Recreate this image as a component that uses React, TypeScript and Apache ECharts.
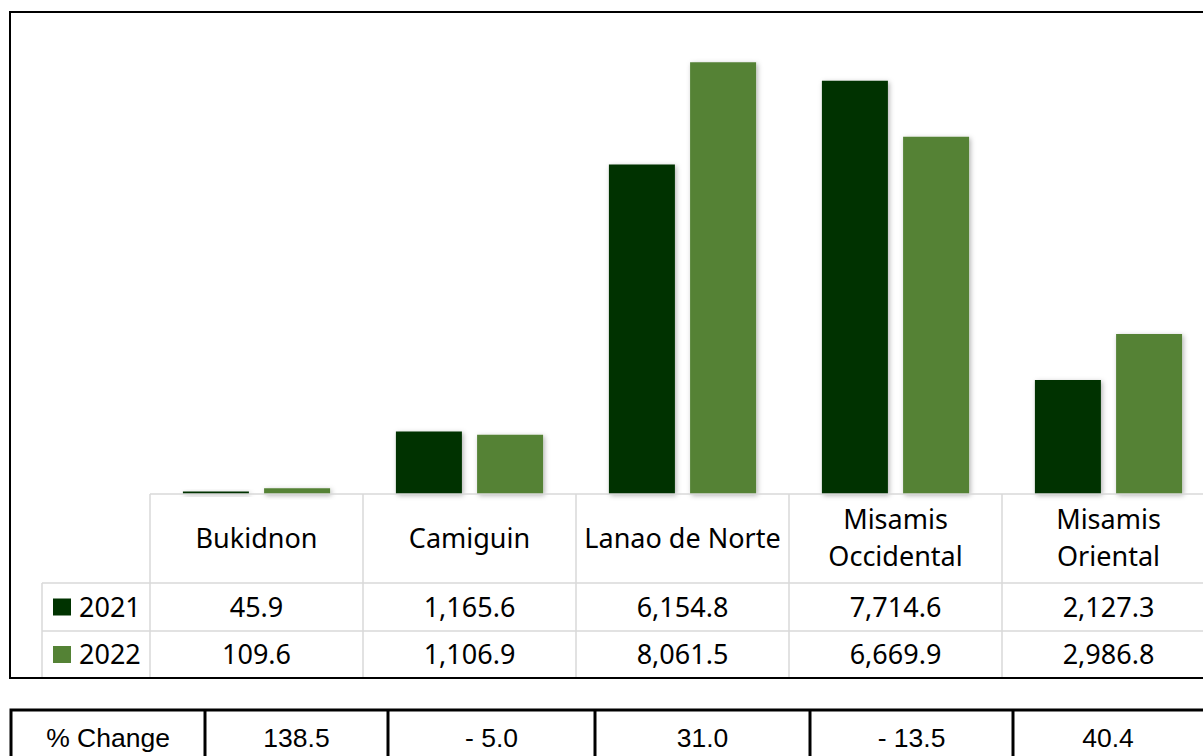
import React, { useEffect, useRef } from "react";
import * as echarts from "echarts";

const categories = ["Bukidnon", "Camiguin", "Lanao de Norte", "Misamis\nOccidental", "Misamis\nOriental"];
const seriesNames = ["2021", "2022"];
const values2021 = [45.9, 1165.6, 6154.8, 7714.6, 2127.3];
const values2022 = [109.6, 1106.9, 8061.5, 6669.9, 2986.8];
const pctChange = [138.5, -5.0, 31.0, -13.5, 40.4];
const pctLabel = "% Change";
const colors = ["#003300", "#548235"];

const fmt = (v: number) =>
  v.toLocaleString("en-US", { minimumFractionDigits: 1, maximumFractionDigits: 1 });
const fmtPct = (v: number) => (v < 0 ? "- " + Math.abs(v).toFixed(1) : v.toFixed(1));

export default function App() {
  const ref = useRef<HTMLDivElement>(null);
  useEffect(() => {
    if (!ref.current) return;
    const chart = echarts.init(ref.current, null, { renderer: "svg" });

    const CW = 1240;
    const gridLeft = 150;
    const colW = 213;
    const baseY = 494;
    const row1Y = 583;
    const row2Y = 631;
    const bottomY = 678;
    const font = "'Noto Sans', sans-serif";
    const gray = "#d9d9d9";

    const g: any[] = [];
    // outer border
    g.push({
      type: "rect",
      shape: { x: 10, y: 12, width: 1220, height: bottomY - 12 },
      style: { fill: "none", stroke: "#000", lineWidth: 2 },
      z: 10,
    });
    const hl = (x1: number, x2: number, y: number) =>
      g.push({ type: "line", shape: { x1, y1: y, x2, y2: y }, style: { stroke: gray, lineWidth: 1.5 }, z: 5 });
    const vl = (x: number, y1: number, y2: number) =>
      g.push({ type: "line", shape: { x1: x, y1, x2: x, y2 }, style: { stroke: gray, lineWidth: 1.5 }, z: 5 });
    hl(gridLeft, CW, baseY);
    hl(42, CW, row1Y);
    hl(42, CW, row2Y);
    vl(42, row1Y, bottomY);
    for (let i = 0; i <= categories.length; i++) vl(gridLeft + colW * i, baseY, bottomY);

    categories.forEach((c, i) => {
      const cx = gridLeft + colW * (i + 0.5);
      g.push({
        type: "text",
        x: cx,
        y: (baseY + row1Y) / 2 - 1.5,
        style: { text: c, font: `27px ${font}`, fill: "#000", align: "center", verticalAlign: "middle", lineHeight: 37 },
        z: 6,
      });
      g.push({
        type: "text",
        x: cx,
        y: (row1Y + row2Y) / 2 - 1,
        style: { text: fmt(values2021[i]), font: `27px ${font}`, fill: "#000", align: "center", verticalAlign: "middle" },
        z: 6,
      });
      g.push({
        type: "text",
        x: cx,
        y: (row2Y + bottomY) / 2 - 1,
        style: { text: fmt(values2022[i]), font: `27px ${font}`, fill: "#000", align: "center", verticalAlign: "middle" },
        z: 6,
      });
    });
    // legend keys
    [row1Y, row2Y].forEach((ry, k) => {
      const cy = (ry + (k === 0 ? row2Y : bottomY)) / 2;
      g.push({ type: "rect", shape: { x: 53, y: cy - 8.5, width: 18, height: 17 }, style: { fill: colors[k] }, z: 6 });
      g.push({
        type: "text",
        x: 79,
        y: cy - 1,
        style: { text: seriesNames[k], font: `27px ${font}`, fill: "#000", align: "left", verticalAlign: "middle" },
        z: 6,
      });
    });

    // % change table
    const pctCols = [11, 205, 388, 595, 810, 1013, 1203];
    const tTop = 710;
    g.push({
      type: "rect",
      shape: { x: 11, y: tTop, width: 1225, height: 80 },
      style: { fill: "none", stroke: "#000", lineWidth: 3 },
      z: 10,
    });
    for (let i = 1; i < pctCols.length - 1; i++) {
      g.push({
        type: "line",
        shape: { x1: pctCols[i], y1: tTop, x2: pctCols[i], y2: 790 },
        style: { stroke: "#000", lineWidth: 3 },
        z: 10,
      });
    }
    const pctTexts = [pctLabel, ...pctChange.map(fmtPct)];
    pctTexts.forEach((t, i) => {
      g.push({
        type: "text",
        x: (pctCols[i] + pctCols[i + 1]) / 2,
        y: 738,
        style: {
          text: t,
          font: "26.5px 'Liberation Sans', Arial, sans-serif",
          fill: "#000",
          align: "center",
          verticalAlign: "middle",
        },
        z: 10,
      });
    });

    chart.setOption({
      animation: false,
      grid: { left: gridLeft, right: CW - (gridLeft + colW * categories.length), top: 12, bottom: 756 - baseY },
      xAxis: {
        type: "category",
        data: categories,
        axisLine: { show: false },
        axisTick: { show: false },
        axisLabel: { show: false },
      },
      yAxis: {
        type: "value",
        min: 0,
        max: 9000,
        show: false,
        splitLine: { show: false },
      },
      series: [values2021, values2022].map((d, k) => ({
        name: seriesNames[k],
        type: "bar",
        data: d,
        barWidth: 66,
        barGap: "23%",
        itemStyle: {
          color: colors[k],
          shadowBlur: 5,
          shadowColor: "rgba(0,0,0,0.3)",
          shadowOffsetX: 1.5,
          shadowOffsetY: 1.5,
        },
      })),
      graphic: g,
    });
    return () => chart.dispose();
  }, []);
  return (
    <div style={{ position: "fixed", left: 0, top: 0, width: 1203, height: 756, overflow: "hidden", background: "#fff" }}>
      <div ref={ref} style={{ width: 1240, height: 756 }} />
    </div>
  );
}
